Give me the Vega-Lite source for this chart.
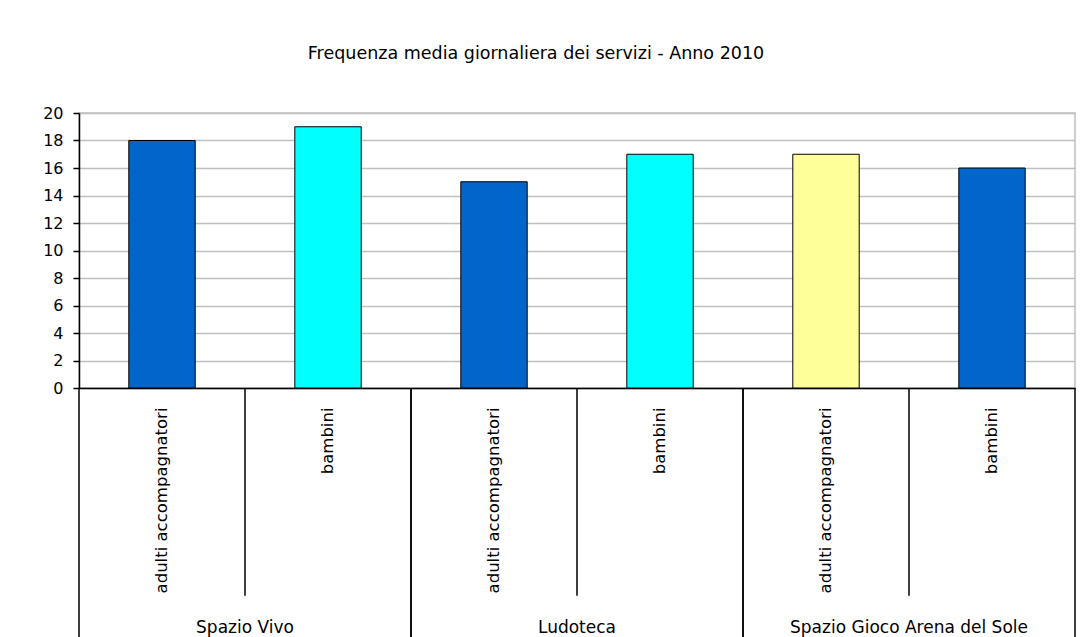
{
  "$schema": "https://vega.github.io/schema/vega-lite/v6.json",
  "autosize": {"type": "none"},
  "padding": {"left": 79, "top": 113, "right": 15, "bottom": 249},
  "width": 996,
  "height": 275,
  "background": "white",
  "title": {
    "text": "Frequenza media giornaliera dei servizi - Anno 2010",
    "font": "DejaVu Sans",
    "fontSize": 17.5,
    "fontWeight": "normal",
    "color": "black",
    "anchor": "middle",
    "dx": -41,
    "offset": 43
  },
  "data": {
    "values": [
      {"voce": "Spazio Vivo|adulti accompagnatori", "gruppo": "Spazio Vivo", "categoria": "adulti accompagnatori", "valore": 18},
      {"voce": "Spazio Vivo|bambini", "gruppo": "Spazio Vivo", "categoria": "bambini", "valore": 19},
      {"voce": "Ludoteca|adulti accompagnatori", "gruppo": "Ludoteca", "categoria": "adulti accompagnatori", "valore": 15},
      {"voce": "Ludoteca|bambini", "gruppo": "Ludoteca", "categoria": "bambini", "valore": 17},
      {"voce": "Spazio Gioco Arena del Sole|adulti accompagnatori", "gruppo": "Spazio Gioco Arena del Sole", "categoria": "adulti accompagnatori", "valore": 17},
      {"voce": "Spazio Gioco Arena del Sole|bambini", "gruppo": "Spazio Gioco Arena del Sole", "categoria": "bambini", "valore": 16}
    ]
  },
  "encoding": {
    "x": {
      "field": "voce",
      "type": "nominal",
      "sort": null,
      "scale": {"paddingInner": 0, "paddingOuter": 0},
      "axis": {
        "title": null,
        "labelExpr": "split(datum.value, '|')[1]",
        "labelAngle": 270,
        "labelAlign": "right",
        "labelBaseline": "middle",
        "labelPadding": 19,
        "ticks": false,
        "tickSize": 0,
        "domainColor": "black",
        "domainWidth": 1.5,
        "labelFont": "DejaVu Sans",
        "labelFontSize": 16.5,
        "labelColor": "black",
        "labelLimit": 300,
        "labelOverlap": false,
        "grid": false
      }
    }
  },
  "layer": [
    {
      "mark": {"type": "bar", "width": {"band": 0.4}, "stroke": "black", "strokeWidth": 1},
      "encoding": {
        "y": {
          "field": "valore",
          "type": "quantitative",
          "title": null,
          "scale": {"domain": [0, 20], "nice": false}
        },
        "color": {
          "field": "voce",
          "type": "nominal",
          "sort": null,
          "legend": null,
          "scale": {"range": ["#0066CC", "#00FFFF", "#0066CC", "#00FFFF", "#FFFF99", "#0066CC"]}
        }
      }
    },
    {
      "transform": [{"filter": "datum.categoria == 'bambini'"}],
      "mark": {"type": "rule", "color": "black", "strokeWidth": 1.5, "clip": false},
      "encoding": {
        "x": {"field": "voce", "type": "nominal", "sort": null, "bandPosition": 0},
        "y": {"datum": 0, "type": "quantitative", "title": null},
        "y2": {"datum": -15.1}
      }
    },
    {
      "transform": [{"filter": "datum.categoria == 'adulti accompagnatori'"}],
      "mark": {"type": "rule", "color": "black", "strokeWidth": 1.5, "clip": false},
      "encoding": {
        "x": {"field": "voce", "type": "nominal", "sort": null, "bandPosition": 0},
        "y": {"datum": 0, "type": "quantitative", "title": null},
        "y2": {"datum": -20}
      }
    },
    {
      "transform": [{"filter": "datum.categoria == 'bambini'"}],
      "mark": {"type": "rule", "color": "black", "strokeWidth": 1.5, "clip": false},
      "encoding": {
        "x": {"field": "voce", "type": "nominal", "sort": null, "bandPosition": 1},
        "y": {"datum": 0, "type": "quantitative", "title": null},
        "y2": {"datum": -20}
      }
    },
    {
      "transform": [{"filter": "datum.categoria == 'adulti accompagnatori'"}],
      "mark": {"type": "text", "font": "DejaVu Sans", "fontSize": 17, "color": "black", "baseline": "alphabetic", "align": "center"},
      "encoding": {
        "x": {"field": "voce", "type": "nominal", "sort": null, "bandPosition": 1},
        "y": {"datum": -17.85, "type": "quantitative", "title": null},
        "text": {"field": "gruppo"}
      }
    }
  ],
  "config": {
    "view": {"stroke": "#c0c0c0", "strokeWidth": 1.5},
    "axisY": {
      "tickCount": 10,
      "labelOverlap": false,
      "grid": true,
      "gridColor": "#c0c0c0",
      "gridWidth": 1.5,
      "domainColor": "black",
      "domainWidth": 1.5,
      "tickColor": "black",
      "tickSize": 6,
      "tickWidth": 1.5,
      "labelPadding": 10,
      "labelFont": "DejaVu Sans",
      "labelFontSize": 16,
      "labelColor": "black"
    }
  }
}
